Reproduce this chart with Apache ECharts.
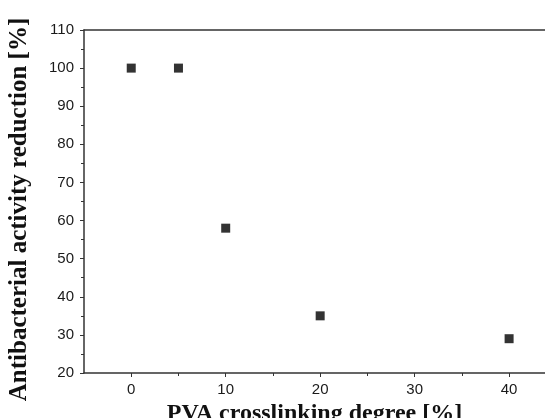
<!DOCTYPE html>
<html>
<head>
<meta charset="utf-8">
<script src="https://cdn.jsdelivr.net/npm/echarts@6/dist/echarts.min.js"></script>
<style>
  html, body { margin: 0; padding: 0; background: #fff; }
  #chart { width: 545px; height: 418px; }
</style>
</head>
<body>
<div id="chart"></div>
<script>
// data
var crosslinking = [0, 5, 10, 20, 40];
var reduction = [100, 100, 58, 35, 29];
var xMajor = [0, 10, 20, 30, 40];
var xMinor = [5, 15, 25, 35];

var pts = [];
for (var i = 0; i < crosslinking.length; i++) {
    pts.push([crosslinking[i], reduction[i]]);
}

var chart = echarts.init(document.getElementById('chart'));

var axisCol = '#333';
var xMin = -5, xMax = 43.8;

var option = {
    animation: false,
    grid: { left: 84, top: 30, right: 0, bottom: 45, outerBoundsMode: 'none', containLabel: false },
    xAxis: [{
        type: 'value',
        min: xMin,
        max: xMax,
        interval: 5,
        name: 'PVA crosslinking degree [%]',
        nameLocation: 'middle',
        nameGap: 23,
        nameTextStyle: {
            fontFamily: 'Liberation Serif',
            fontWeight: 'bold',
            fontSize: 24,
            color: '#111'
        },
        splitLine: { show: false },
        axisLine: { onZero: false, lineStyle: { color: axisCol, width: 1.5 } },
        axisTick: { customValues: xMajor, length: 4, lineStyle: { color: axisCol } },
        axisLabel: {
            customValues: xMajor,
            margin: 9,
            fontFamily: 'Liberation Sans',
            fontSize: 15,
            color: '#1a1a1a'
        }
    }, {
        // minor ticks
        type: 'value',
        position: 'bottom',
        min: xMin,
        max: xMax,
        interval: 5,
        splitLine: { show: false },
        axisLine: { show: false, onZero: false },
        axisTick: { customValues: xMinor, length: 3, lineStyle: { color: axisCol } },
        axisLabel: { show: false }
    }, {
        // top frame line
        type: 'value',
        position: 'top',
        min: xMin,
        max: xMax,
        splitLine: { show: false },
        axisLine: { onZero: false, lineStyle: { color: axisCol, width: 1.5 } },
        axisTick: { show: false },
        axisLabel: { show: false }
    }],
    yAxis: {
        type: 'value',
        min: 20,
        max: 110,
        interval: 10,
        name: 'Antibacterial activity reduction [%]',
        nameLocation: 'middle',
        nameGap: 52,
        nameTextStyle: {
            fontFamily: 'Liberation Serif',
            fontWeight: 'bold',
            fontSize: 25,
            color: '#111',
            padding: [0, 16, 0, 0]
        },
        splitLine: { show: false },
        axisLine: { show: true, onZero: false, lineStyle: { color: axisCol, width: 1.5 } },
        axisTick: { show: true, length: 4, lineStyle: { color: axisCol } },
        minorTick: { show: true, splitNumber: 2, length: 3, lineStyle: { color: axisCol } },
        axisLabel: {
            margin: 10,
            fontFamily: 'Liberation Sans',
            fontSize: 15,
            color: '#1a1a1a'
        }
    },
    series: [{
        type: 'scatter',
        xAxisIndex: 0,
        symbol: 'rect',
        symbolSize: 9,
        itemStyle: { color: '#000' },
        silent: true,
        data: pts
    }]
};

chart.setOption(option);
</script>
</body>
</html>
